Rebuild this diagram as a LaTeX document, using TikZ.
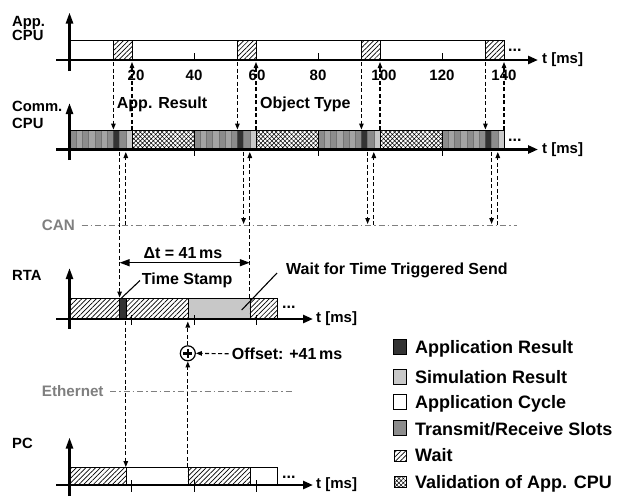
\documentclass[tikz,border=0pt]{standalone}
\usepackage{fontspec}
\setmainfont{Liberation Sans}
\usetikzlibrary{arrows.meta,patterns.meta}
\definecolor{appres}{HTML}{333333}
\definecolor{simres}{HTML}{C8C8C8}
\definecolor{slotA}{HTML}{8C8C8C}
\definecolor{slotB}{HTML}{A4A4A4}
\definecolor{busgray}{HTML}{7F7F7F}
\tikzset{
  haxis/.style={line width=2.8pt, -{Triangle[length=10pt,width=8pt]}},
  vaxis/.style={line width=2.4pt, -{Triangle[length=11pt,width=7pt]}},
  bar/.style={draw=black, line width=0.6pt},
  waitfill/.style={pattern={Lines[angle=45,distance=3.4pt,line width=0.7pt]}},
  valfill/.style={pattern={Hatch[angle=45,distance=3.1pt,line width=0.5pt]}},
  dasharrow/.style={line width=1.1pt, dash pattern=on 4pt off 2.5pt, -{Triangle[length=6pt,width=4.5pt]}},
  busline/.style={draw=busgray, line width=1pt, dash pattern=on 6pt off 3pt on 1.5pt off 3pt},
  tickmark/.style={line width=1pt},
  lbl/.style={font=\fontsize{16}{18}\selectfont\bfseries, inner sep=0pt, anchor=base west},
  side/.style={font=\fontsize{14.8}{17}\selectfont\bfseries, inner sep=0pt, anchor=base west},
  ticklbl/.style={font=\fontsize{15}{17}\selectfont\bfseries, inner sep=0pt, anchor=base},
  unitlbl/.style={font=\fontsize{15}{17}\selectfont\bfseries, inner sep=0pt, anchor=west},
  buslbl/.style={font=\fontsize{15.2}{17}\selectfont\bfseries, text=busgray, inner sep=0pt, anchor=base west},
  leglbl/.style={font=\fontsize{18}{20}\selectfont\bfseries, inner sep=0pt, anchor=base west},
  dotslbl/.style={font=\fontsize{16}{18}\selectfont\bfseries, inner sep=0pt, anchor=base west},
  pointer/.style={line width=1.1pt},
}
\begin{document}
\begin{tikzpicture}[x=1pt,y=-1pt]
\useasboundingbox (0,0) rectangle (617,496);

% ---------------- App CPU ----------------
\draw[bar] (70,40.7) rectangle (504,60);
\foreach \s in {14,54,94,134}
  \draw[bar,waitfill] ({70+3.1*\s},40.7) rectangle ({70+3.1*(\s+6)},60);
\foreach \s in {40,80,120}
  \draw[tickmark] ({70+3.1*\s},53) -- ({70+3.1*\s},60);
\draw[vaxis] (69.5,71) -- (69.5,12.5);
\draw[haxis] (56,60) -- (538,60);
\node[side] (appl1) at (12,26.5) {App.};
\node[side] (appl2) at (12,40) {CPU};
\node[unitlbl] (appunit) at (542,60) {t [ms]};
\node[dotslbl] (appdots) at (508,51) {...};
\node[ticklbl] (t20) at (136,80.5) {20};
\node[ticklbl] (t40) at (194,80.5) {40};
\node[ticklbl] (t60) at (257,80.5) {60};
\node[ticklbl] (t80) at (318,80.5) {80};
\node[ticklbl] (t100) at (384,80.5) {100};
\node[ticklbl] (t120) at (442,80.5) {120};
\node[ticklbl] (t140) at (504,80.5) {140};

% ---------------- Comm CPU ----------------
\foreach \k in {0,40,80,120} {
  \foreach \i in {0,...,6} {
    \ifodd\i \def\slc{slotB}\else\def\slc{slotA}\fi
    \filldraw[fill=\slc, draw=black!55, line width=0.3pt]
      ({70+3.1*(\k+2*\i)},130.5) rectangle ({70+3.1*(\k+2*\i+2)},149.5);
  }
  \filldraw[fill=appres, draw=black!70, line width=0.3pt] ({70+3.1*(\k+14)},130.5) rectangle ({70+3.1*(\k+16)},149.5);
  \filldraw[fill=slotA, draw=black!55, line width=0.3pt] ({70+3.1*(\k+16)},130.5) rectangle ({70+3.1*(\k+18)},149.5);
  \filldraw[fill=simres, draw=black!55, line width=0.3pt] ({70+3.1*(\k+18)},130.5) rectangle ({70+3.1*(\k+20)},149.5);
}
\foreach \k in {0,40,80}
  \draw[bar,valfill] ({70+3.1*(\k+20)},130.5) rectangle ({70+3.1*(\k+40)},149.5);
\draw[bar] (70,130.5) rectangle (504,149.5);
\foreach \s in {40,80,120}
  \draw[tickmark] ({70+3.1*\s},150) -- ({70+3.1*\s},155.5);
\draw[vaxis] (69.5,160) -- (69.5,103);
\draw[haxis] (56,149.5) -- (538,149.5);
\node[side] (coml1) at (12,111.7) {Comm.};
\node[side] (coml2) at (12,128.3) {CPU};
\node[unitlbl] (comunit) at (542,149.5) {t [ms]};
\node[dotslbl] (comdots) at (508,141) {...};
\node[lbl] (appresult) at (116.7,108) {App. Result};
\node[lbl] (objtype) at (260,108) {Object Type};

% App CPU <-> Comm CPU
\foreach \k in {0,40,80,120} {
  \draw[dasharrow] ({70+3.1*(\k+14)},62) -- ({70+3.1*(\k+14)},129.5);
  \draw[dasharrow] ({70+3.1*(\k+20)},130) -- ({70+3.1*(\k+20)},62);
}

% ---------------- CAN ----------------
\node[buslbl] (canlbl) at (41.7,230.5) {CAN};
\draw[busline] (81.7,225) -- (517,225);

% Comm CPU <-> CAN / RTA
\draw[dasharrow] (119.6,151.5) -- (119.6,297.5);
\draw[dasharrow] (125.8,225) -- (125.8,152);
\draw[dasharrow] (243.6,151.5) -- (243.6,224);
\draw[dasharrow] (249.8,297.5) -- (249.8,152);
\draw[dasharrow] (367.6,151.5) -- (367.6,224);
\draw[dasharrow] (373.8,225) -- (373.8,152);
\draw[dasharrow] (491.6,151.5) -- (491.6,224);
\draw[dasharrow] (497.8,225) -- (497.8,152);

% ---------------- RTA ----------------
\draw[bar,waitfill] (70,298.3) rectangle (119.6,319);
\filldraw[fill=appres, draw=black, line width=0.6pt] (119.6,298.3) rectangle (125.8,319);
\draw[bar,waitfill] (125.8,298.3) rectangle (187.8,319);
\filldraw[fill=simres, draw=black, line width=0.6pt] (187.8,298.3) rectangle (249.8,319);
\draw[bar,waitfill] (249.8,298.3) rectangle (277.7,319);
\foreach \x in {131.8,194,256}
  \draw[tickmark] (\x,315) -- (\x,325);
\draw[vaxis] (69.5,328.5) -- (69.5,268);
\draw[haxis] (56,319) -- (313,319);
\node[side] (rtalbl) at (12,280) {RTA};
\node[unitlbl] (rtaunit) at (316,319) {t [ms]};
\node[dotslbl] (rtadots) at (282,308.5) {...};

\draw[line width=1.4pt, {Triangle[length=10pt,width=7pt]}-{Triangle[length=10pt,width=7pt]}] (119.6,262.7) -- (249.8,262.7);
\node[font=\fontsize{16}{18}\selectfont\bfseries, inner sep=0pt, anchor=base] (dt) at (183,258) {Δt = 41\,ms};
\node[lbl] (ts) at (141.7,284.5) {Time Stamp};
\draw[pointer] (121.5,298) -- (140,280.5);
\node[lbl] (wt) at (286,274.5) {Wait for Time Triggered Send};
\draw[pointer] (241.7,310) -- (277,273);

% ---------------- Offset ----------------
\node[circle, draw, line width=1.2pt, minimum size=15pt, inner sep=0pt] (plus) at (187.8,353.3) {};
\draw[line width=2.6pt] ([xshift=-4.5pt]plus.center) -- ([xshift=4.5pt]plus.center);
\draw[line width=2.6pt] ([yshift=-4.5pt]plus.center) -- ([yshift=4.5pt]plus.center);
\node[lbl] (offlbl) at (231.7,359.5) {Offset: +41\,ms};
\draw[dasharrow] ([xshift=-3pt]offlbl.west) -- (plus.east);
\draw[dasharrow] (187.8,467) -- (plus.south);
\draw[dasharrow] (plus.north) -- (187.8,321.5);
\draw[dasharrow] (125.8,321) -- (125.8,467);

% ---------------- Ethernet ----------------
\node[buslbl] (ethlbl) at (41.7,396.5) {Ethernet};
\draw[busline] (110,391.7) -- (291.7,391.7);

% ---------------- PC ----------------
\draw[bar,waitfill] (70,467.7) rectangle (125.8,485);
\draw[bar] (125.8,467.7) rectangle (187.8,485);
\draw[bar,waitfill] (187.8,467.7) rectangle (249.8,485);
\draw[bar] (249.8,467.7) rectangle (277.7,485);
\foreach \x in {131.8,194,256}
  \draw[tickmark] (\x,480) -- (\x,491.5);
\draw[vaxis] (69.5,496) -- (69.5,437.5);
\draw[haxis] (56,485) -- (313,485);
\node[side] (pclbl) at (12,448) {PC};
\node[unitlbl] (pcunit) at (316,485) {t [ms]};
\node[dotslbl] (pcdots) at (282,478.5) {...};

% ---------------- Legend ----------------
\filldraw[fill=appres, draw=black, line width=0.6pt] (393,339.5) rectangle (406,354.5);
\node[leglbl] (lg1) at (415,353) {Application Result};
\filldraw[fill=simres, draw=black, line width=0.6pt] (393,369.5) rectangle (406,384.5);
\node[leglbl] (lg2) at (415,383.5) {Simulation Result};
\draw[bar] (393,394.5) rectangle (406,409.5);
\node[leglbl] (lg3) at (415,408.5) {Application Cycle};
\filldraw[fill=slotA, draw=black, line width=0.6pt] (393,420.5) rectangle (406,435.5);
\node[leglbl] (lg4) at (415,435) {Transmit/Receive Slots};
\draw[bar,waitfill] (394,450) rectangle (406,461.5);
\node[leglbl] (lg5) at (415,461.5) {Wait};
\draw[bar,valfill] (394,476.5) rectangle (406,487.5);
\node[leglbl] (lg6) at (415,488) {Validation of App. CPU};
\end{tikzpicture}
\end{document}
